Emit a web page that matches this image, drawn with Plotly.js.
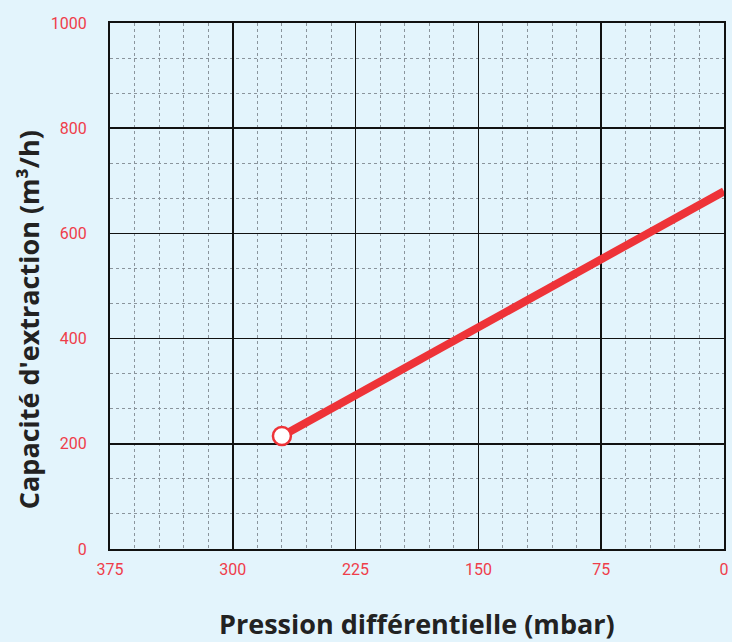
<!DOCTYPE html>
<html><head><meta charset="utf-8">
<script src="https://cdn.plot.ly/plotly-3.0.1.min.js"></script>
<style>html,body{margin:0;padding:0;background:#e3f4fc;}#c{width:732px;height:642px;}</style>
</head><body><div id="c"></div>
<script>
const pressure = [270, 0];          // mbar
const capacity = [215, 680];        // m³/h
const xTicks = [375, 300, 225, 150, 75, 0];
const yTicks = [0, 200, 400, 600, 800, 1000];
const xTitle = 'Pression différentielle (mbar)';
const yTitle = 'Capacité d\'extraction (m³/h)';

const red = '#ee3338';
const traces = [
  {x: pressure, y: capacity, mode: 'lines', line: {color: red, width: 8}, hoverinfo: 'skip'},
  {x: [pressure[0]], y: [capacity[0]], mode: 'markers',
   marker: {size: 18, color: '#ffffff', line: {color: red, width: 2.5}}, hoverinfo: 'skip'}
];
const tickFont = {family: 'Roboto, sans-serif', size: 16, color: '#ef3d4a'};
const titleFont = {family: '"Open Sans", sans-serif', size: 27, color: '#222222', weight: 'bold'};
const layout = {
  width: 732, height: 642,
  paper_bgcolor: '#e3f4fc', plot_bgcolor: '#e3f4fc',
  margin: {l: 110, r: 8, t: 23, b: 93},
  showlegend: false,
  xaxis: {
    range: [375, 0], tickmode: 'array', tickvals: xTicks, ticktext: xTicks.map(String),
    tickfont: tickFont, ticks: '', ticklabelstandoff: 5,
    showgrid: true, gridcolor: '#111111', gridwidth: 1.6,
    showline: true, linecolor: '#111111', linewidth: 2, mirror: true, zeroline: false,
    minor: {tickmode: 'linear', dtick: 15, tick0: 0, showgrid: true, gridcolor: '#8a949c', griddash: 'dot', gridwidth: 1}
  },
  yaxis: {
    range: [0, 1000], tickmode: 'array', tickvals: yTicks, ticktext: yTicks.map(String),
    tickfont: tickFont, ticks: '', ticklabelstandoff: 18,
    showgrid: true, gridcolor: '#111111', gridwidth: 1.6,
    showline: true, linecolor: '#111111', linewidth: 2, mirror: true, zeroline: false,
    minor: {tickmode: 'linear', dtick: 200 / 3, tick0: 0, showgrid: true, gridcolor: '#8a949c', griddash: 'dot', gridwidth: 1}
  },
  annotations: [
    {text: xTitle, xref: 'paper', yref: 'paper', x: 0.5, y: -0.141, xanchor: 'center', yanchor: 'middle',
     showarrow: false, font: titleFont},
    {text: yTitle, xref: 'paper', yref: 'paper', x: -0.1335, y: 0.435, xanchor: 'center', yanchor: 'middle',
     textangle: -90, showarrow: false, font: titleFont}
  ]
};
Plotly.newPlot('c', traces, layout, {displayModeBar: false, staticPlot: true});
</script></body></html>
